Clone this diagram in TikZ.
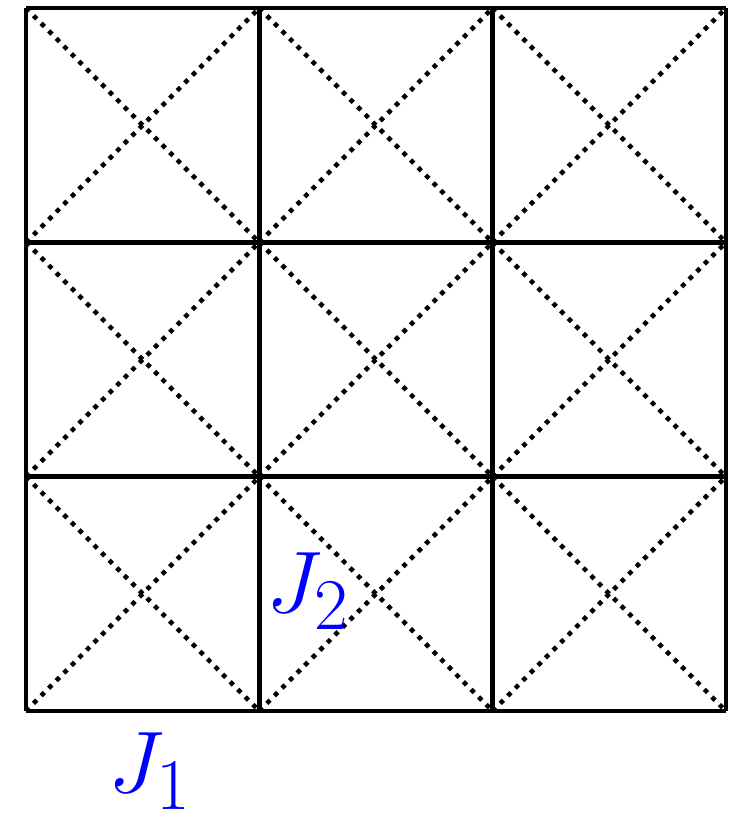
\documentclass[tikz,border=0pt]{standalone}
\tikzset{
  gridline/.style={line width=2.8pt},
  diagline/.style={line width=2.6pt, dash pattern=on 2.6pt off 3.5pt},
  jlabel/.style={text=blue, font=\Huge, scale=2, transform shape}
}
\begin{document}
\begin{tikzpicture}[x=0.02cm,y=0.02cm]
	\useasboundingbox (0,0) rectangle (738,819);
	% dotted diagonals, both in every cell
	\foreach \i in {0,1,2}
	\foreach \j in {0,1,2} {
		\draw [diagline] ({26+233.3*\i},{108+234.3*\j}) -- ++(233.3,234.3);
		\draw [diagline] ({26+233.3*\i},{108+234.3*(\j+1)}) -- ++(233.3,-234.3);
	}
	% solid grid
	\foreach \x in {26,259.3,492.6,726}
		\draw [gridline] (\x,108) -- (\x,811);
	\foreach \y in {108,342.3,576.6,811}
		\draw [gridline] (26,\y) -- (726,\y);
	\node [jlabel] (J1) at (150, 48) {$J_1$};
	\node [jlabel] (J2) at (308, 228) {$J_2$};
\end{tikzpicture}
\end{document}
